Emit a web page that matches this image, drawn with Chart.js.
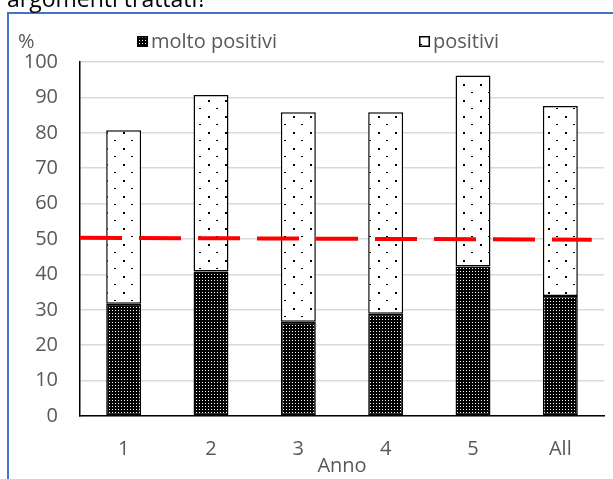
<!DOCTYPE html>
<html>
<head>
<meta charset="utf-8">
<script src="https://cdn.jsdelivr.net/npm/chart.js@4.4.0/dist/chart.umd.min.js"></script>
<style>
html, body { margin: 0; padding: 0; background: #fff; }
#wrap { position: relative; width: 613px; height: 479px; }
</style>
</head>
<body>
<div id="wrap"><canvas id="bar-chart" width="613" height="479"></canvas></div>
<script>
// dati
var anni = ["1", "2", "3", "4", "5", "All"];
var moltoPositivi = [31.7, 40.8, 26.6, 28.9, 42.2, 33.9];
var positivi = [49.0, 49.9, 59.2, 56.9, 54.0, 53.7];
var soglia = [{x: 0, y: 50.35}, {x: 5.86, y: 49.8}];
var yMin = 0, yMax = 100, yStep = 10;

var canvas = document.getElementById("bar-chart");
var mainCtx = canvas.getContext('2d');
var grigio = "#595959";
var font = '"Open Sans", "DejaVu Sans", sans-serif';

function makePattern(w, h, bg, fg, dots) {
    var c = document.createElement('canvas');
    c.width = w;
    c.height = h;
    var g = c.getContext('2d');
    g.fillStyle = bg;
    g.fillRect(0, 0, w, h);
    g.fillStyle = fg;
    dots.forEach(function (d) { g.fillRect(d[0], d[1], d[2], d[3]); });
    return mainCtx.createPattern(c, 'repeat');
}
var darkFill = makePattern(3, 3, '#000', '#fff', [[1, 1, 1, 1]]);
var lightFill = makePattern(17, 16, '#fff', '#000', [[4, 4, 2, 2], [12, 12, 2, 1]]);

var decorazioni = {
    id: 'decorazioni',
    beforeDraw: function (chart) {
        var ctx = chart.ctx;
        ctx.save();
        ctx.strokeStyle = '#4472c4';
        ctx.lineWidth = 2;
        ctx.beginPath();
        ctx.moveTo(8, 479);
        ctx.lineTo(8, 13);
        ctx.lineTo(613, 13);
        ctx.stroke();
        ctx.fillStyle = '#000';
        ctx.font = '23px ' + font;
        ctx.textBaseline = 'alphabetic';
        ctx.fillText('argomenti trattati?', 7, 7);
        ctx.restore();
    },
    afterDraw: function (chart) {
        var ctx = chart.ctx;
        ctx.save();
        ctx.font = '20px ' + font;
        ctx.fillStyle = grigio;
        ctx.textBaseline = 'middle';
        ctx.fillText('%', 18, 42);
        // legenda
        var pos = [137, 419];
        var bars = chart.data.datasets.filter(function (d) { return d.type !== 'line'; });
        bars.forEach(function (ds, i) {
            var x = pos[i];
            ctx.fillStyle = ds.backgroundColor;
            ctx.fillRect(x, 36, 11, 11);
            ctx.strokeStyle = '#000';
            ctx.lineWidth = 1.5;
            ctx.strokeRect(x + 0.75, 36.75, 9.5, 9.5);
            ctx.fillStyle = grigio;
            ctx.fillText(ds.label, x + 14, 42);
        });
        ctx.restore();
    }
};

new Chart(canvas, {
    type: 'bar',
    data: {
        labels: anni,
        datasets: [
            {
                label: "molto positivi",
                data: moltoPositivi,
                xAxisID: 'x',
                stack: 'anno',
                backgroundColor: darkFill,
                borderColor: '#000',
                borderWidth: 1.5,
                borderSkipped: false,
                order: 1
            }, {
                label: "positivi",
                data: positivi,
                xAxisID: 'x',
                stack: 'anno',
                backgroundColor: lightFill,
                borderColor: '#000',
                borderWidth: 1.5,
                borderSkipped: false,
                order: 1
            }, {
                type: 'line',
                label: 'soglia',
                data: soglia,
                xAxisID: 'xl',
                borderColor: '#ff0000',
                borderWidth: 4,
                borderDash: [42, 17],
                pointRadius: 0,
                fill: false,
                order: 0
            }
        ]
    },
    options: {
        responsive: false,
        animation: false,
        devicePixelRatio: 1,
        layout: {
            padding: { top: 62, right: 9, bottom: 0, left: 0 }
        },
        plugins: {
            legend: { display: false },
            tooltip: { enabled: false }
        },
        datasets: {
            bar: { barPercentage: 0.4, categoryPercentage: 1, grouped: false }
        },
        scales: {
            x: {
                type: 'category',
                stacked: true,
                offset: true,
                grid: { display: false, drawTicks: false },
                border: { display: true, color: '#000', width: 1.5 },
                ticks: { color: grigio, font: { family: font, size: 20 }, padding: 21 },
                title: {
                    display: true,
                    text: 'Anno',
                    color: grigio,
                    font: { family: font, size: 20 },
                    padding: { top: 0, bottom: 1 }
                },
                afterFit: function (scale) { scale.height = 63; }
            },
            xl: {
                type: 'linear',
                display: false,
                offset: false,
                min: 0,
                max: 6
            },
            y: {
                stacked: true,
                min: yMin,
                max: yMax,
                ticks: { stepSize: yStep, color: grigio, font: { family: font, size: 20 }, padding: 22 },
                grid: { color: '#d9d9d9', lineWidth: 1.5, drawTicks: false },
                border: { display: true, color: '#000', width: 1.5 },
                afterFit: function (scale) { scale.width = 80; }
            }
        }
    },
    plugins: [decorazioni]
});
</script>
</body>
</html>
